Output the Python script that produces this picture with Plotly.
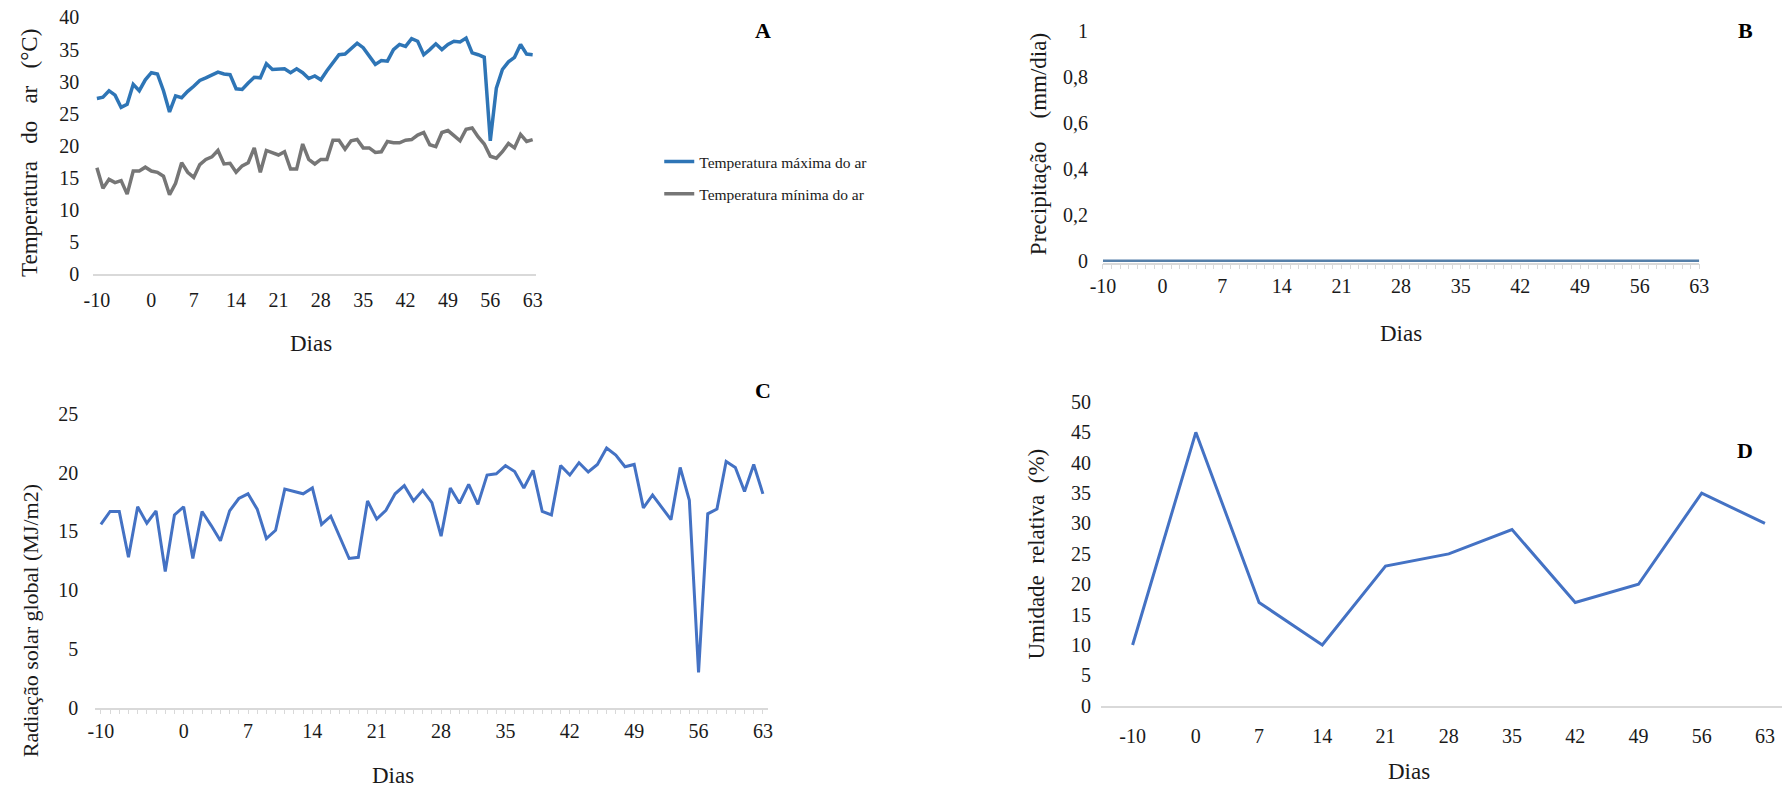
import plotly.graph_objects as go

# ---------------- data ----------------
# daily records (day -9 has no record)
dias = [-10] + list(range(-8, 64))
rotulos_dias = [-10, 0, 7, 14, 21, 28, 35, 42, 49, 56, 63]

temp_max = [27.4, 27.6, 28.6, 27.9, 26.0, 26.5, 29.6, 28.6, 30.3, 31.4,
            31.2, 28.6, 25.3, 27.8, 27.5, 28.5, 29.3, 30.2, 30.6, 31.1,
            31.5, 31.2, 31.1, 28.9, 28.8, 29.8, 30.7, 30.6, 32.8, 31.9,
            32.0, 32.0, 31.4, 32.0, 31.4, 30.5, 30.9, 30.3, 31.7, 33.0,
            34.2, 34.3, 35.2, 36.0, 35.3, 34.0, 32.7, 33.3, 33.2, 35.0,
            35.8, 35.5, 36.7, 36.3, 34.2, 35.0, 35.9, 35.0, 35.8, 36.3,
            36.2, 36.8, 34.5, 34.2, 33.8, 20.8, 29.0, 31.9, 33.1, 33.8,
            35.8, 34.3, 34.2]

temp_min = [16.6, 13.4, 14.8, 14.3, 14.6, 12.5, 16.1, 16.1, 16.7, 16.1,
            15.9, 15.3, 12.4, 14.2, 17.4, 15.9, 15.1, 17.1, 17.9, 18.3,
            19.3, 17.2, 17.3, 15.9, 16.9, 17.4, 19.7, 15.9, 19.3, 19.0,
            18.6, 19.1, 16.4, 16.4, 20.3, 17.9, 17.2, 17.9, 17.9, 20.9,
            20.9, 19.5, 20.8, 21.0, 19.7, 19.7, 19.0, 19.1, 20.7, 20.5,
            20.5, 20.9, 21.0, 21.7, 22.1, 20.2, 19.9, 22.1, 22.4, 21.6,
            20.8, 22.6, 22.8, 21.4, 20.3, 18.4, 18.1, 19.1, 20.4, 19.7,
            21.8, 20.7, 21.0]

radiacao = [15.6, 16.7, 16.7, 12.8, 17.1, 15.7, 16.75, 11.6, 16.4, 17.1,
            12.7, 16.7, 15.5, 14.2, 16.75, 17.8, 18.2, 16.9, 14.4, 15.1,
            18.6, 18.4, 18.2, 18.7, 15.6, 16.3, 14.5, 12.7, 12.8, 17.6,
            16.05, 16.8, 18.2, 18.9, 17.6, 18.5, 17.45, 14.6, 18.7, 17.4,
            19.0, 17.3, 19.8, 19.9, 20.6, 20.1, 18.7, 20.2, 16.7, 16.4,
            20.6, 19.8, 20.85, 20.06, 20.7, 22.1, 21.5, 20.5, 20.7, 17.0,
            18.1, 17.1, 16.0, 20.45, 17.65, 3.0, 16.5, 16.9, 20.96, 20.45,
            18.4, 20.7, 18.2]

# precipitation register (no rain in the period)
precipitacao = [0, 0, 0, 0, 0, 0, 0, 0, 0, 0, 0, 0, 0, 0, 0, 0, 0, 0,
                0, 0, 0, 0, 0, 0, 0, 0, 0, 0, 0, 0, 0, 0, 0, 0, 0, 0,
                0, 0, 0, 0, 0, 0, 0, 0, 0, 0, 0, 0, 0, 0, 0, 0, 0, 0,
                0, 0, 0, 0, 0, 0, 0, 0, 0, 0, 0, 0, 0, 0, 0, 0, 0]
ticks_precip = [0, 0.2, 0.4, 0.6, 0.8, 1]
rotulos_precip = ["0", "0,2", "0,4", "0,6", "0,8", "1"]

umidade = [10, 45, 17, 10, 23, 25, 29, 17, 20, 35, 30]

# ---------------- styling ----------------
FONT = "Liberation Serif, Times New Roman, serif"
W, H = 1792, 790
# the page shows the figure slightly inset and scaled; layout positions
# below are given in page pixels and converted here
SX, OX = 0.990, 7.9
SY, OY = 0.976, 9.5
AXIS_GRAY = "#D9D9D9"
TICK_SIZE = 20
TITLE_SIZE = 23
TXT = "#1a1a1a"

cat_dias = [str(d) for d in dias]
cat_rotulos = [str(d) for d in rotulos_dias]


def px_x(p):
    """page pixel -> paper x"""
    return ((p - OX) / SX) / W


def px_y(p):
    """page pixel -> paper y"""
    return 1 - ((p - OY) / SY) / H


fig = go.Figure()

# A - air temperature
fig.add_trace(go.Scatter(x=cat_dias, y=temp_max, mode="lines",
                         name="Temperatura máxima do ar", legendgroup="a1",
                         line=dict(color="#2E75B6", width=3.5),
                         xaxis="x", yaxis="y"))
fig.add_trace(go.Scatter(x=cat_dias, y=temp_min, mode="lines",
                         name="Temperatura mínima do ar", legendgroup="a2",
                         line=dict(color="#767676", width=3.5),
                         xaxis="x", yaxis="y"))

# B - precipitation
fig.add_trace(go.Scatter(x=list(range(len(precipitacao))), y=precipitacao,
                         mode="lines", showlegend=False,
                         line=dict(color="#557FA9", width=2.5),
                         xaxis="x2", yaxis="y2"))

# C - global solar radiation
fig.add_trace(go.Scatter(x=cat_dias, y=radiacao, mode="lines", showlegend=False,
                         line=dict(color="#4472C4", width=3),
                         xaxis="x3", yaxis="y3"))

# D - relative humidity
fig.add_trace(go.Scatter(x=cat_rotulos, y=umidade, mode="lines", showlegend=False,
                         line=dict(color="#4472C4", width=3),
                         xaxis="x4", yaxis="y4"))

tickfont = dict(family=FONT, size=TICK_SIZE, color=TXT)
base_x = dict(showgrid=False, zeroline=False, showline=True, linecolor=AXIS_GRAY,
              linewidth=1.5, tickfont=tickfont, fixedrange=True)
base_y = dict(showgrid=False, zeroline=False, showline=False, tickfont=tickfont,
              ticks="", fixedrange=True)

# label positions every 7 steps for B
idx_b = list(range(0, len(precipitacao), 7))

fig.update_layout(
    width=W, height=H, autosize=False,
    margin=dict(l=0, r=0, t=0, b=0),
    paper_bgcolor="white", plot_bgcolor="white",
    font=dict(family=FONT, color=TXT),
    showlegend=True,
    legend=dict(x=px_x(656), y=px_y(144), xanchor="left", yanchor="top",
                font=dict(family=FONT, size=15.5, color=TXT),
                tracegroupgap=9, itemwidth=30, bgcolor="rgba(0,0,0,0)"),
    # A
    xaxis=dict(base_x, type="category", domain=[px_x(88.4), px_x(532.7)],
               range=[-0.6, 72.6], tickvals=cat_rotulos, ticktext=cat_rotulos,
               ticks="", ticklabelstandoff=7, anchor="y"),
    yaxis=dict(base_y, domain=[px_y(274), px_y(16)], range=[0, 40], dtick=5,
               ticklabelstandoff=13, anchor="x"),
    # B
    xaxis2=dict(base_x, domain=[px_x(1101), px_x(1699)], range=[0, 70],
                tickvals=idx_b, ticktext=cat_rotulos, ticks="outside", ticklen=5,
                tickcolor=AXIS_GRAY, ticklabelstandoff=0, layer="below traces",
                minor=dict(dtick=1, ticks="outside", ticklen=5, tickcolor=AXIS_GRAY),
                anchor="y2"),
    yaxis2=dict(base_y, domain=[px_y(262), px_y(30)], range=[-0.008, 1],
                tickvals=ticks_precip, ticktext=rotulos_precip,
                ticklabelstandoff=14, anchor="x2", layer="below traces"),
    # C
    xaxis3=dict(base_x, type="category", domain=[px_x(90.5), px_x(765.5)],
                range=[-0.6, 72.6], tickvals=cat_dias,
                ticktext=[d if d in cat_rotulos else "" for d in cat_dias],
                ticks="outside", ticklen=5, tickcolor=AXIS_GRAY,
                ticklabelstandoff=0, anchor="y3"),
    yaxis3=dict(base_y, domain=[px_y(709), px_y(414)], range=[0, 25], dtick=5,
                ticklabelstandoff=16, anchor="x3"),
    # D
    xaxis4=dict(base_x, type="category", domain=[px_x(1099), 1.0],
                range=[-0.5, 10.27], tickvals=cat_rotulos, ticktext=cat_rotulos,
                ticks="", ticklabelstandoff=12, anchor="y4"),
    yaxis4=dict(base_y, domain=[px_y(707), px_y(402)], range=[0, 50], dtick=5,
                ticklabelstandoff=9, anchor="x4"),
)

NB = "\u00a0"
letterfont = dict(family=FONT, size=22, color="#000000")
notes = [
    # x titles
    dict(text="Dias", x=px_x(307), y=px_y(343), size=TITLE_SIZE),
    dict(text="Dias", x=px_x(1400), y=px_y(333), size=TITLE_SIZE),
    dict(text="Dias", x=px_x(389), y=px_y(777), size=TITLE_SIZE),
    dict(text="Dias", x=px_x(1408), y=px_y(773), size=TITLE_SIZE),
    # y titles
    dict(text=f"Temperatura{NB}{NB} do{NB}{NB} ar{NB}{NB} (°C)",
         x=px_x(25), y=px_y(152), angle=-90, size=TITLE_SIZE),
    dict(text=f"Precipitação{NB}{NB}{NB} (mm/dia)",
         x=px_x(1037), y=px_y(143), angle=-90, size=TITLE_SIZE),
    dict(text="Radiação solar global (MJ/m2)",
         x=px_x(25), y=px_y(622), angle=-90, size=22),
    dict(text=f"Umidade{NB} relativa{NB} (%)",
         x=px_x(1034), y=px_y(555), angle=-90, size=TITLE_SIZE),
]
for n in notes:
    fig.add_annotation(xref="paper", yref="paper", showarrow=False,
                       xanchor="center", yanchor="middle",
                       x=n["x"], y=n["y"], text=n["text"],
                       textangle=n.get("angle", 0),
                       font=dict(family=FONT, size=n["size"], color=TXT))

for letra, (lx, ly) in {"A": (760, 29), "B": (1745, 29),
                        "C": (760, 391), "D": (1745, 451)}.items():
    fig.add_annotation(xref="paper", yref="paper", showarrow=False,
                       x=px_x(lx), y=px_y(ly), xanchor="center", yanchor="middle",
                       text=f"<b>{letra}</b>", font=letterfont)

fig.write_html("out.html")
